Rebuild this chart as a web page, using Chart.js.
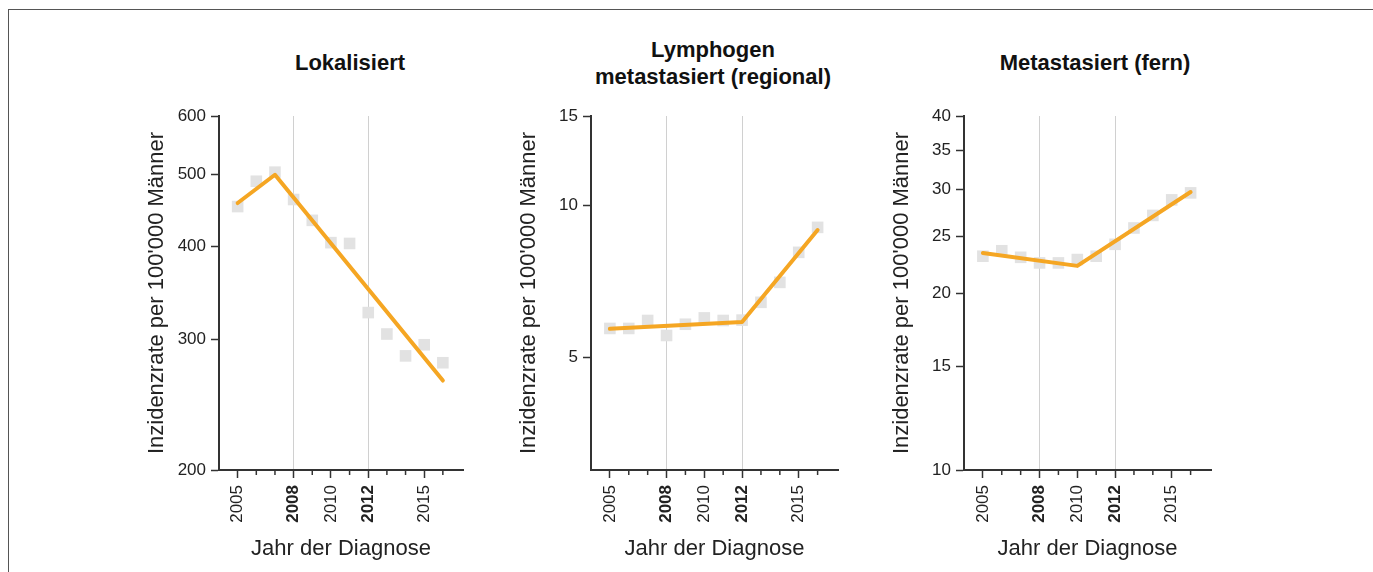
<!DOCTYPE html>
<html lang="de">
<head>
<meta charset="utf-8">
<title>Inzidenzrate nach Stadium</title>
<script src="https://cdn.jsdelivr.net/npm/chart.js@4.4.1/dist/chart.umd.min.js"></script>
<style>
  html, body { margin: 0; padding: 0; background: #fff; overflow: hidden; }
  body { width: 1373px; height: 572px; position: relative; font-family: "Liberation Sans", Arial, sans-serif; }
  .frame { position: absolute; left: 8px; top: 9px; width: 1400px; height: 620px; border: 1px solid #555; }
  .panel { position: absolute; top: 0; }
  .title {
    position: absolute; top: 63px; transform: translate(-50%, -50%);
    font-weight: bold; font-size: 22px; line-height: 26.5px;
    text-align: center; color: #111; white-space: nowrap;
  }
</style>
</head>
<body>
<div class="frame"></div>

<div class="title" style="left:350px">Lokalisiert</div>
<div class="title" style="left:713px">Lymphogen<br>metastasiert (regional)</div>
<div class="title" style="left:1095px">Metastasiert (fern)</div>

<canvas id="lokal" class="panel" width="334" height="572" style="left:139px;width:334px;height:572px"></canvas>
<canvas id="regional" class="panel" width="337" height="572" style="left:511px;width:337px;height:572px"></canvas>
<canvas id="fern" class="panel" width="337" height="572" style="left:884px;width:337px;height:572px"></canvas>

<script>
const FONT = '"Liberation Sans", Arial, sans-serif';
const ORANGE = '#f5a623';
const SQUARE = '#e2e2e2';
const AXIS = '#333';

// x axis
const years = [2005, 2006, 2007, 2008, 2009, 2010, 2011, 2012, 2013, 2014, 2015, 2016];
const labeledYears = [2005, 2008, 2010, 2012, 2015];
const boldYears = [2008, 2012];

// Lokalisiert
const lokalRates = [453, 490, 504, 463, 434, 405, 404, 326, 305, 285, 295, 279];
const lokalTrendYears = [2005, 2007, 2016];
const lokalTrend = [458, 500, 264];
const lokalTicks = [200, 300, 400, 500, 600];

// Lymphogen metastasiert (regional)
const regionalRates = [5.71, 5.71, 5.92, 5.53, 5.82, 5.99, 5.92, 5.93, 6.43, 7.04, 8.07, 9.04];
const regionalTrendYears = [2005, 2012, 2016];
const regionalTrend = [5.70, 5.88, 8.93];
const regionalTicks = [5, 10, 15];

// Metastasiert (fern)
const fernRates = [23.1, 23.6, 23.0, 22.5, 22.5, 22.8, 23.1, 24.2, 25.8, 27.1, 28.8, 29.6];
const fernTrendYears = [2005, 2010, 2016];
const fernTrend = [23.4, 22.24, 29.7];
const fernTicks = [10, 15, 20, 25, 30, 35, 40];

// short ticks for the unlabelled years
const minorTicks = {
  id: 'minorTicks',
  afterDraw(chart) {
    const xs = chart.scales.x;
    const ctx = chart.ctx;
    ctx.save();
    ctx.strokeStyle = AXIS;
    ctx.lineWidth = 1.5;
    years.filter(y => !labeledYears.includes(y)).forEach(y => {
      const px = xs.getPixelForValue(y);
      ctx.beginPath();
      ctx.moveTo(px, xs.top);
      ctx.lineTo(px, xs.top + 5);
      ctx.stroke();
    });
    ctx.restore();
  }
};

function makePanel(id, rates, trendYears, trend, yTicks, yMin, yMax) {
  const ctx = document.getElementById(id).getContext('2d');
  return new Chart(ctx, {
    type: 'scatter',
    data: {
      datasets: [
        {
          type: 'line',
          data: trendYears.map((x, i) => ({ x, y: trend[i] })),
          borderColor: ORANGE,
          borderWidth: 4,
          borderCapStyle: 'round',
          borderJoinStyle: 'round',
          pointRadius: 0,
          fill: false,
          order: 0
        },
        {
          data: years.map((x, i) => ({ x, y: rates[i] })),
          pointStyle: 'rect',
          pointRadius: 8.2,
          backgroundColor: SQUARE,
          borderWidth: 0,
          order: 1
        }
      ]
    },
    options: {
      responsive: false,
      animation: false,
      layout: { padding: { left: 0, right: 10, top: 116, bottom: 0 } },
      plugins: { legend: { display: false }, tooltip: { enabled: false } },
      scales: {
        x: {
          type: 'linear',
          min: 2004,
          max: 2017.08,
          afterBuildTicks: (scale) => { scale.ticks = years.map(v => ({ value: v })); },
          afterFit: (scale) => { scale.height = 102; },
          ticks: {
            autoSkip: false,
            minRotation: 90,
            maxRotation: 90,
            padding: 7,
            color: '#222',
            callback: (v) => labeledYears.includes(v) ? String(v) : '',
            font: (c) => ({
              family: FONT,
              size: 17,
              weight: c.tick && boldYears.includes(c.tick.value) ? 'bold' : 'normal'
            })
          },
          grid: {
            drawTicks: true,
            tickLength: 8,
            tickWidth: 1.5,
            tickColor: (c) => c.tick && labeledYears.includes(c.tick.value) ? AXIS : 'rgba(0,0,0,0)',
            color: (c) => c.tick && boldYears.includes(c.tick.value) ? '#d0d0d0' : 'rgba(0,0,0,0)',
            lineWidth: 1
          },
          border: { color: AXIS, width: 2 },
          title: {
            display: true,
            text: 'Jahr der Diagnose',
            color: '#222',
            font: { family: FONT, size: 22 },
            padding: { top: 0, bottom: 9.8 }
          }
        },
        y: {
          type: 'logarithmic',
          min: yMin,
          max: yMax,
          afterBuildTicks: (scale) => { scale.ticks = yTicks.map(v => ({ value: v })); },
          afterFit: (scale) => { scale.width = 80; },
          ticks: {
            autoSkip: false,
            padding: 5,
            color: '#222',
            font: { family: FONT, size: 17 },
            callback: (v) => String(v)
          },
          grid: {
            drawOnChartArea: false,
            drawTicks: true,
            tickLength: 8,
            tickWidth: 1.5,
            tickColor: AXIS
          },
          border: { color: AXIS, width: 2 },
          title: {
            display: true,
            text: "Inzidenzrate per 100'000 Männer",
            color: '#222',
            font: { family: FONT, size: 22 },
            padding: { top: 4.3, bottom: 0 }
          }
        }
      }
    },
    plugins: [minorTicks]
  });
}

makePanel('lokal', lokalRates, lokalTrendYears, lokalTrend, lokalTicks, 200, 600);
makePanel('regional', regionalRates, regionalTrendYears, regionalTrend, regionalTicks, 3, 15);
makePanel('fern', fernRates, fernTrendYears, fernTrend, fernTicks, 10, 40);
</script>
</body>
</html>
